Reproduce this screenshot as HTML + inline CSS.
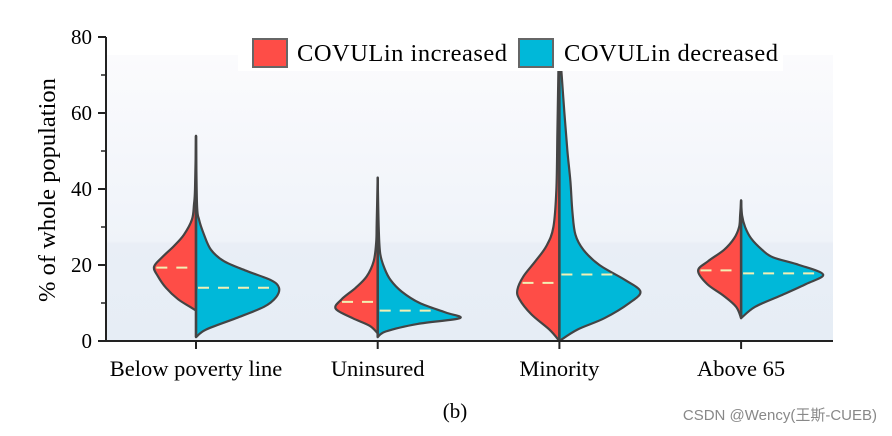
<!DOCTYPE html>
<html><head><meta charset="utf-8"><style>
body{margin:0;background:#fff;}
svg{display:block;font-family:"Liberation Serif",serif;}
</style></head><body>
<svg id="chart" width="892" height="436">
<defs><linearGradient id="bg" x1="0" y1="0" x2="0" y2="1">
<stop offset="0" stop-color="#fbfbfd"/><stop offset="0.65" stop-color="#eff3f9"/><stop offset="0.66" stop-color="#e9eef6"/><stop offset="1" stop-color="#e6edf5"/></linearGradient></defs>
<rect x="106" y="55" width="727" height="286" fill="url(#bg)"/>
<g id="violins"></g>
<g id="axes"></g>
<g>
<rect x="238" y="37" width="545" height="34" fill="#fff"/>
<rect x="253" y="39" width="34" height="28" fill="#fe4d47" stroke="#666" stroke-width="2"/>
<text x="297" y="61" font-size="24.5" textLength="210">COVULin increased</text>
<rect x="519" y="39" width="34" height="28" fill="#00b8d9" stroke="#666" stroke-width="2"/>
<text x="564" y="61" font-size="24.5" textLength="214">COVULin decreased</text>
</g>
<text transform="translate(55,190) rotate(-90)" text-anchor="middle" font-size="24.5">% of whole population</text>
<text x="455" y="418" text-anchor="middle" font-size="21">(b)</text>
<text x="877" y="420" text-anchor="end" font-size="15" fill="#888" font-family="Liberation Sans, 'Noto Sans CJK SC', sans-serif">CSDN @Wency(王斯-CUEB)</text>
</svg>
<script>
const categories=["Below poverty line","Uninsured","Minority","Above 65"];
const yTicks=[0,20,40,60,80];
const yMinor=[10,30,50,70];
// profiles: [value, half-width density]
const incProfiles=[
[[8,0],[9,6],[11,18],[14,30],[17,38],[19.5,42],[22,34],[25,22],[28,12],[32,4],[36,2],[40,1],[54,0]],
[[2,0],[4,8],[6,25],[8.5,42],[11,36],[14,22],[17,11],[21,4],[26,1.5],[31,1],[43,0]],
[[0,0],[3,10],[7,28],[11,40],[13.5,42],[17,36],[21,24],[25,13],[30,6],[40,3],[55,2],[71,1]],
[[6,0],[9,5],[12,18],[15,34],[18.5,43],[21,33],[24,17],[27,7],[30,2],[33,1],[37,0]]];
const decProfiles=[
[[1,0],[3,10],[6,40],[9,68],[11.5,80],[14,83],[16,75],[18.5,50],[21,28],[24,15],[28,8],[32,3],[36,1],[54,0]],
[[1,0],[2.5,8],[4.5,40],[6,82],[7.5,68],[10,42],[13,24],[16,13],[19,7],[23,2.5],[30,1],[43,0]],
[[0,0],[3,18],[6,45],[10,70],[13,81],[16,66],[20,40],[24,24],[28,16],[34,13],[42,11],[50,8],[60,5],[71,2]],
[[6,0],[9,14],[12,40],[15,65],[17.5,82],[20,58],[22,32],[24,21],[27,10],[30,4],[33,1],[37,0]]];
const incMedians=[19.3,10.3,15.3,18.6];
const decMedians=[14,8,17.5,17.8];

const NS="http://www.w3.org/2000/svg";
const x0=106,x1=833,yb=341,yt=37,ymax=80;
const y=v=>yb-(v/ymax)*(yb-yt);
const xc=i=>196+i*181.7;
const svg=document.getElementById('chart');
const vg=document.getElementById('violins'),ag=document.getElementById('axes');
function mk(t,a,p){const e=document.createElementNS(NS,t);for(const k in a)e.setAttribute(k,a[k]);(p||svg).appendChild(e);return e;}
function smooth(pts){let d="";for(let i=0;i<pts.length-1;i++){const p0=pts[Math.max(0,i-1)],p1=pts[i],p2=pts[i+1],p3=pts[Math.min(pts.length-1,i+2)];
const c1=[p1[0]+(p2[0]-p0[0])/6,p1[1]+(p2[1]-p0[1])/6],c2=[p2[0]-(p3[0]-p1[0])/6,p2[1]-(p3[1]-p1[1])/6];
d+=` C${c1[0]},${c1[1]} ${c2[0]},${c2[1]} ${p2[0]},${p2[1]}`;}return d;}
function half(i,prof,dir,color,name){
const cx=xc(i);const pts=prof.map(p=>[cx+dir*p[1],y(p[0])]);
let d=`M${cx},${y(prof[0][0])} L${pts[0][0]},${pts[0][1]}`+smooth(pts)+` L${cx},${y(prof[prof.length-1][0])} Z`;
const e=mk('path',{d:d,fill:color,stroke:'#444','stroke-width':2.2,'stroke-linejoin':'round'},vg);

}
function widthAt(prof,v){for(let k=0;k<prof.length-1;k++){if(v>=prof[k][0]&&v<=prof[k+1][0]){const t=(v-prof[k][0])/(prof[k+1][0]-prof[k][0]);return prof[k][1]+t*(prof[k+1][1]-prof[k][1]);}}return 0;}
categories.forEach((c,i)=>{
half(i,incProfiles[i],-1,'#fe4d47','violin-increased-'+i);
half(i,decProfiles[i],1,'#00b8d9','violin-decreased-'+i);
const cx=xc(i);
const m1=mk('line',{x1:cx-widthAt(incProfiles[i],incMedians[i])+2,x2:cx-2,y1:y(incMedians[i]),y2:y(incMedians[i]),stroke:'#f2f0b4','stroke-width':2,'stroke-dasharray':'11,9'},vg);


const m2=mk('line',{x1:cx+2,x2:cx+widthAt(decProfiles[i],decMedians[i])-2,y1:y(decMedians[i]),y2:y(decMedians[i]),stroke:'#f2f0b4','stroke-width':2,'stroke-dasharray':'11,9'},vg);


const l=mk('line',{x1:cx,x2:cx,y1:y(Math.max(incProfiles[i][incProfiles[i].length-1][0],decProfiles[i][decProfiles[i].length-1][0])),y2:y(Math.min(incProfiles[i][0][0],decProfiles[i][0][0])),stroke:'#444','stroke-width':2.5},vg);


const tk=mk('line',{x1:cx,x2:cx,y1:yb,y2:yb+8,stroke:'#222','stroke-width':2},ag);


const tl=mk('text',{x:cx,y:376,'text-anchor':'middle','font-size':22.5},ag);tl.textContent=c;


});
const ya=mk('line',{x1:x0,x2:x0,y1:yt,y2:yb+1,stroke:'#222','stroke-width':2},ag);


const xa=mk('line',{x1:x0-1,x2:x1,y1:yb,y2:yb,stroke:'#222','stroke-width':2},ag);


yTicks.forEach(v=>{
const t=mk('line',{x1:x0-8,x2:x0,y1:y(v),y2:y(v),stroke:'#222','stroke-width':2},ag);


const l=mk('text',{x:x0-14,y:y(v)+7,'text-anchor':'end','font-size':21},ag);l.textContent=v;

});
yMinor.forEach(v=>{
const t=mk('line',{x1:x0-5,x2:x0,y1:y(v),y2:y(v),stroke:'#222','stroke-width':1.5},ag);

});
</script>
</body></html>
